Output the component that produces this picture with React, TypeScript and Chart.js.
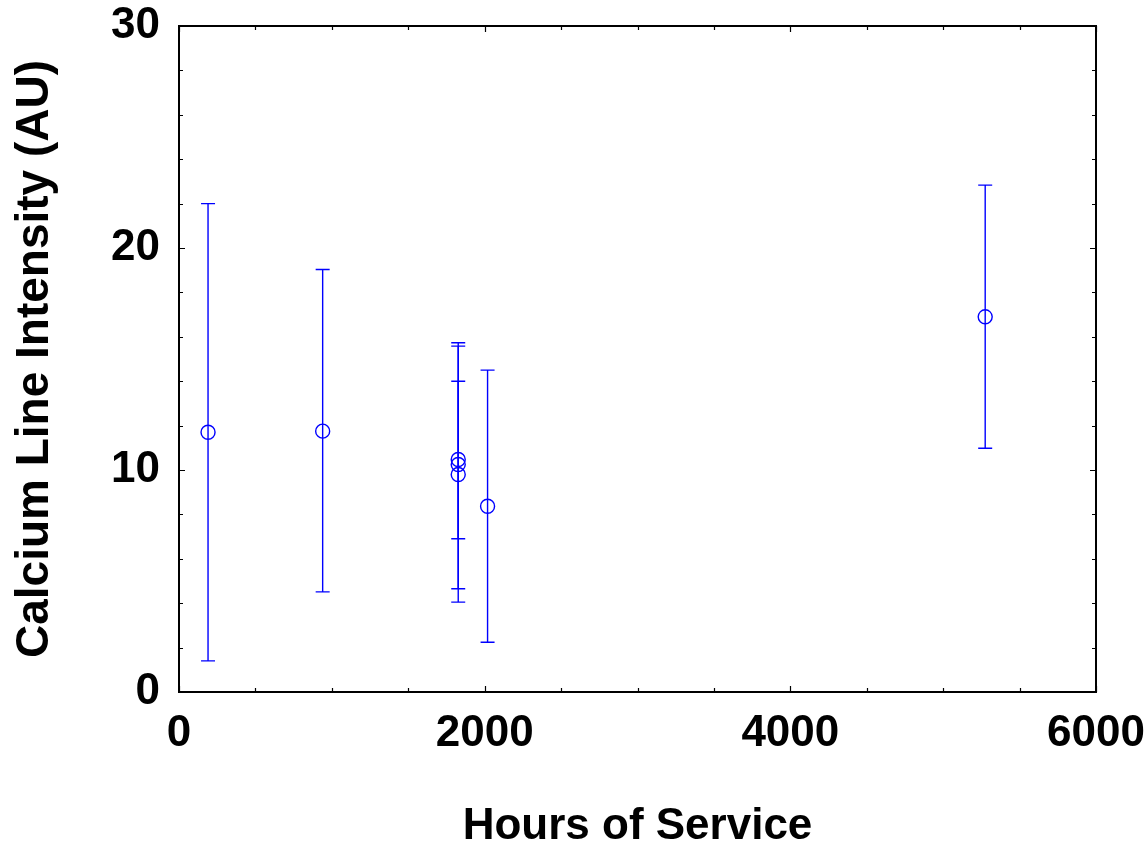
import React, { useEffect, useRef } from "react";
import { Chart, registerables } from "chart.js";

Chart.register(...registerables);

const hours = [190, 940, 1827, 1827, 1827, 2019, 5275];
const intensity = [11.7, 11.75, 10.47, 10.25, 9.8, 8.37, 16.9];
const upper = [22.0, 19.03, 15.73, 15.58, 14.0, 14.5, 22.83];
const lower = [1.4, 4.51, 4.05, 4.65, 6.9, 2.24, 10.98];

const xMin = 0;
const xMax = 6000;
const xMajorStep = 2000;
const xMinorStep = 500;
const yMin = 0;
const yMax = 30;
const yMajorStep = 10;
const yMinorStep = 2;

const xTitle = "Hours of Service";
const yTitle = "Calcium Line Intensity (AU)";

const BLUE = "#0000ff";
const FONT = "'Liberation Sans', Arial, sans-serif";

const errorBarPlugin = {
  id: "errorBars",
  beforeDatasetsDraw(chart: any) {
    const xs = chart.scales.x;
    const ys = chart.scales.y;
    const ctx = chart.ctx;
    ctx.save();
    ctx.strokeStyle = BLUE;
    ctx.lineWidth = 1.4;
    const cap = 7;
    for (let i = 0; i < hours.length; i++) {
      const px = xs.getPixelForValue(hours[i]);
      const pTop = ys.getPixelForValue(upper[i]);
      const pBot = ys.getPixelForValue(lower[i]);
      ctx.beginPath();
      ctx.moveTo(px, pTop);
      ctx.lineTo(px, pBot);
      ctx.moveTo(px - cap, pTop);
      ctx.lineTo(px + cap, pTop);
      ctx.moveTo(px - cap, pBot);
      ctx.lineTo(px + cap, pBot);
      ctx.stroke();
    }
    ctx.restore();
  },
};

const framePlugin = {
  id: "frame",
  afterDatasetsDraw(chart: any) {
    const { left, right, top, bottom } = chart.chartArea;
    const xs = chart.scales.x;
    const ys = chart.scales.y;
    const ctx = chart.ctx;
    ctx.save();
    ctx.strokeStyle = "#000";
    ctx.lineWidth = 1.2;
    ctx.beginPath();
    for (let v = xMin; v <= xMax; v += xMinorStep) {
      const len = v % xMajorStep === 0 ? 6 : 4;
      const px = Math.round(xs.getPixelForValue(v)) + 0.5;
      ctx.moveTo(px, bottom);
      ctx.lineTo(px, bottom - len);
      ctx.moveTo(px, top);
      ctx.lineTo(px, top + len);
    }
    for (let v = yMin; v <= yMax; v += yMinorStep) {
      const len = v % yMajorStep === 0 ? 6 : 4;
      const py = Math.round(ys.getPixelForValue(v)) + 0.5;
      ctx.moveTo(left, py);
      ctx.lineTo(left + len, py);
      ctx.moveTo(right, py);
      ctx.lineTo(right - len, py);
    }
    ctx.stroke();
    ctx.lineWidth = 2;
    ctx.strokeRect(left, top, right - left, bottom - top);
    ctx.restore();
  },
};

function zeroPadding(scale: any) {
  scale.paddingLeft = 0;
  scale.paddingRight = 0;
  scale.paddingTop = 0;
  scale.paddingBottom = 0;
}

export default function App() {
  const ref = useRef<HTMLCanvasElement | null>(null);

  useEffect(() => {
    if (!ref.current) return;
    const chart = new Chart(ref.current, {
      type: "scatter",
      data: {
        datasets: [
          {
            data: hours.map((h, i) => ({ x: h, y: intensity[i] })),
            pointStyle: "circle",
            pointRadius: 7,
            pointHoverRadius: 7,
            pointBorderWidth: 1.4,
            pointBorderColor: BLUE,
            pointBackgroundColor: "rgba(0,0,0,0)",
            showLine: false,
          },
        ],
      },
      options: {
        animation: false,
        responsive: true,
        maintainAspectRatio: false,
        layout: { padding: { top: 26, right: 52, left: 0, bottom: 0 } },
        plugins: {
          legend: { display: false },
          tooltip: { enabled: false },
          title: { display: false },
        },
        scales: {
          x: {
            type: "linear",
            min: xMin,
            max: xMax,
            ticks: {
              stepSize: xMajorStep,
              color: "#000",
              padding: 15,
              font: { family: FONT, size: 44, weight: "bold" },
              maxRotation: 0,
              callback: (v: any) => String(v),
            },
            grid: { display: false, drawTicks: false },
            border: { display: false },
            title: {
              display: true,
              text: xTitle,
              color: "#000",
              font: { family: FONT, size: 44, weight: "bold", lineHeight: 0.8 },
              padding: { top: 0, bottom: 0 },
            },
            afterFit(scale: any) {
              scale.height = 152;
              zeroPadding(scale);
            },
          },
          y: {
            type: "linear",
            min: yMin,
            max: yMax,
            ticks: {
              stepSize: yMajorStep,
              color: "#000",
              padding: 19,
              font: { family: FONT, size: 44, weight: "bold" },
              callback: (v: any) => String(v),
            },
            grid: { display: false, drawTicks: false },
            border: { display: false },
            title: {
              display: true,
              text: yTitle,
              color: "#000",
              font: { family: FONT, size: 46, weight: "bold", lineHeight: 0.8 },
              padding: { top: 17, bottom: 0 },
            },
            afterFit(scale: any) {
              scale.width = 179;
              zeroPadding(scale);
            },
          },
        },
      },
      plugins: [errorBarPlugin, framePlugin],
    });
    return () => chart.destroy();
  }, []);

  return (
    <div
      style={{
        position: "fixed",
        left: 0,
        top: 0,
        width: 1148,
        height: 844,
        background: "#fff",
      }}
    >
      <canvas ref={ref} />
    </div>
  );
}
